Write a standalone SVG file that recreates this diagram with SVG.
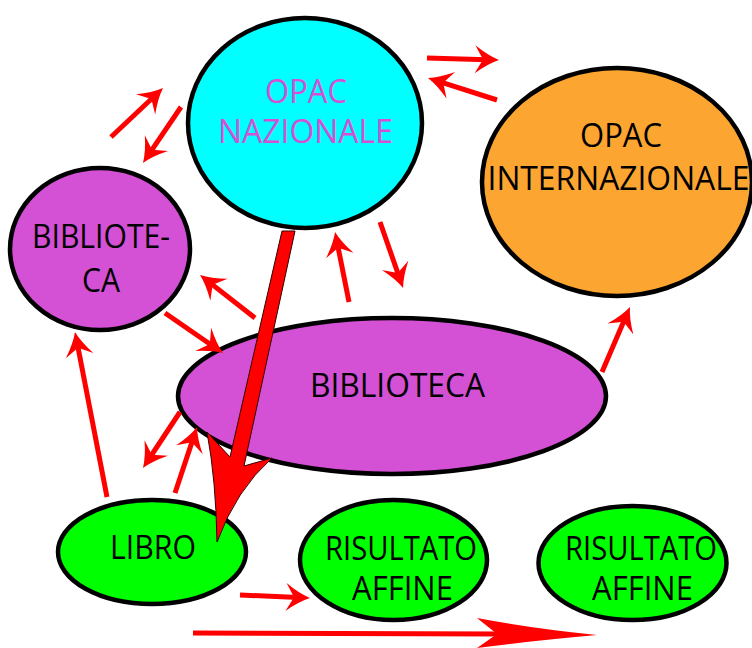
<svg xmlns="http://www.w3.org/2000/svg" width="752" height="648" viewBox="0 0 752 648">
<style>
.node{stroke:#000;stroke-width:4.5}
.t{font-family:"Open Sans","DejaVu Sans",sans-serif;font-size:33px;text-anchor:middle;fill:#000}
.a{stroke:#ff0000;stroke-width:5;fill:none;marker-end:url(#h)}
</style>
<defs>
<marker id="h" markerUnits="userSpaceOnUse" markerWidth="40" markerHeight="40" viewBox="-15 -20 40 40" refX="0" refY="0" orient="auto" overflow="visible">
<path d="M12,0 Q1,-4 -12,-14 L-4,0 L-12,14 Q1,4 12,0 Z" fill="#ff0000"/>
</marker>
</defs>
<rect width="752" height="648" fill="#fff"/>
<g id="opac-nazionale">
<ellipse class="node" cx="305" cy="123" rx="117" ry="105" fill="#00ffff"/>
<text class="t" x="306" y="103" textLength="82" lengthAdjust="spacingAndGlyphs" style="fill:#d450d4">OPAC</text>
<text class="t" x="305.5" y="143" textLength="175" lengthAdjust="spacingAndGlyphs" style="fill:#d450d4">NAZIONALE</text>
</g>
<g id="opac-internazionale">
<ellipse class="node" cx="617" cy="182" rx="135" ry="114" fill="#fca631"/>
<text class="t" x="621" y="147" textLength="82" lengthAdjust="spacingAndGlyphs">OPAC</text>
<text class="t" x="618.5" y="190" textLength="262" lengthAdjust="spacingAndGlyphs">INTERNAZIONALE</text>
</g>
<g id="biblioteca-small">
<ellipse class="node" cx="100" cy="249" rx="90" ry="81" fill="#d450d4"/>
<text class="t" x="101" y="248" textLength="138" lengthAdjust="spacingAndGlyphs">BIBLIOTE-</text>
<text class="t" x="101" y="292" textLength="38" lengthAdjust="spacingAndGlyphs">CA</text>
</g>
<g id="biblioteca">
<ellipse class="node" cx="392" cy="396" rx="214" ry="78" fill="#d450d4"/>
<text class="t" x="397.5" y="397" textLength="175" lengthAdjust="spacingAndGlyphs">BIBLIOTECA</text>
</g>
<g id="libro">
<ellipse class="node" cx="152" cy="552" rx="94" ry="52" fill="#00ff00"/>
<text class="t" x="153" y="559" textLength="86" lengthAdjust="spacingAndGlyphs">LIBRO</text>
</g>
<g id="risultato-affine-1">
<ellipse class="node" cx="393.5" cy="560" rx="93.5" ry="60" fill="#00ff00"/>
<text class="t" x="401" y="560" textLength="152" lengthAdjust="spacingAndGlyphs">RISULTATO</text>
<text class="t" x="402.5" y="600" textLength="101" lengthAdjust="spacingAndGlyphs">AFFINE</text>
</g>
<g id="risultato-affine-2">
<ellipse class="node" cx="632.5" cy="563" rx="94" ry="57" fill="#00ff00"/>
<text class="t" x="641" y="560" textLength="152" lengthAdjust="spacingAndGlyphs">RISULTATO</text>
<text class="t" x="642.5" y="600" textLength="101" lengthAdjust="spacingAndGlyphs">AFFINE</text>
</g>
<g id="connectors">
<line class="a" x1="111" y1="137" x2="154.3" y2="96.2"/>
<line class="a" x1="181" y1="107" x2="149.7" y2="153.1"/>
<line class="a" x1="427" y1="58" x2="487" y2="59.7"/>
<line class="a" x1="497" y1="100" x2="439.4" y2="81.6"/>
<line class="a" x1="349" y1="302" x2="337.4" y2="243.8"/>
<line class="a" x1="380" y1="222" x2="399.1" y2="276.7"/>
<line class="a" x1="255" y1="318" x2="209.5" y2="282.4"/>
<line class="a" x1="165" y1="313" x2="213.1" y2="346.2"/>
<line class="a" x1="107" y1="497" x2="77.3" y2="343.8"/>
<line class="a" x1="180" y1="412" x2="149.6" y2="458"/>
<line class="a" x1="175" y1="493" x2="193.2" y2="438.4"/>
<line class="a" x1="602" y1="372" x2="625.2" y2="318"/>
<line class="a" x1="240" y1="595" x2="298" y2="597.5"/>
<line x1="193" y1="633" x2="500" y2="634" stroke="#ff0000" stroke-width="5"/>
<path d="M597,635 Q530,628 477,618 L497,634 L477,648 Q530,641 597,635 Z" fill="#ff0000"/>
<path d="M282,231 L295,231 L244,466 L272,458 Q236,490 217,542 Q216,480 207,432 L230,457 Z" fill="#ff0000" stroke="#300" stroke-width="1"/>
</g>
</svg>
